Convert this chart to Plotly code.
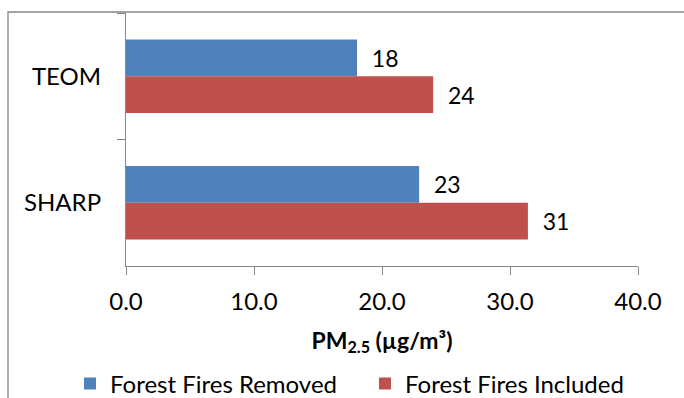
import plotly.graph_objects as go

# Monitor categories and mean PM2.5 concentrations (µg/m³)
monitors = ["TEOM", "SHARP"]
fires_removed = [18.05, 22.9]
fires_included = [24.0, 31.4]
x_ticks = [0, 10, 20, 30, 40]
x_tick_labels = ["0.0", "10.0", "20.0", "30.0", "40.0"]

FONT = "Lato"
AXIS_GRAY = "#868686"
NBSP = "\u00a0"

L, R, T, B = 126, 46, 13, 132
W, H = 684, 398
pw, ph = W - L - R, H - T - B


def px_x(p):
    """Horizontal pixel -> paper coordinate."""
    return (p - L) / pw


def px_y(p):
    """Vertical pixel (from top) -> paper coordinate."""
    return (H - B - p) / ph


fig = go.Figure()
fig.add_trace(go.Bar(
    name="Forest Fires Removed", legend="legend",
    y=monitors, x=fires_removed, orientation="h",
    marker=dict(color="#4F81BD", line=dict(width=0)),
    texttemplate=NBSP * 2 + "%{x:.0f}", textposition="outside",
    constraintext="none", cliponaxis=False,
    textfont=dict(family=FONT, size=23, color="#000000"),
))
fig.add_trace(go.Bar(
    name="Forest Fires Included", legend="legend2",
    y=monitors, x=fires_included, orientation="h",
    marker=dict(color="#C0504D", line=dict(width=0)),
    texttemplate=NBSP * 2 + "%{x:.0f}", textposition="outside",
    constraintext="none", cliponaxis=False,
    textfont=dict(family=FONT, size=23, color="#000000"),
))

# Outer chart-area border (runs off the right and bottom edges)
fig.add_shape(
    type="rect", xref="paper", yref="paper",
    x0=px_x(8), x1=1.3, y0=-1.0, y1=px_y(12),
    line=dict(color=AXIS_GRAY, width=1.3), fillcolor="rgba(0,0,0,0)",
    layer="below",
)

legend_common = dict(
    orientation="h", yanchor="middle", y=px_y(384), xanchor="left",
    font=dict(family=FONT, size=24), bgcolor="rgba(0,0,0,0)",
    borderwidth=0,
)

fig.update_layout(
    width=W, height=H,
    margin=dict(l=L, r=R, t=T, b=B, pad=0, autoexpand=False),
    paper_bgcolor="white", plot_bgcolor="white",
    barmode="group", bargap=0.42, bargroupgap=0,
    font=dict(family=FONT, size=24, color="#000000"),
    showlegend=True,
    legend=dict(x=px_x(70), **legend_common),
    legend2=dict(x=px_x(365), **legend_common),
    xaxis=dict(
        range=[0, 40], tickvals=x_ticks, ticktext=x_tick_labels,
        showgrid=False, zeroline=False,
        showline=True, linecolor=AXIS_GRAY, linewidth=1.3,
        ticks="outside", ticklen=8, tickcolor=AXIS_GRAY, tickwidth=1.3,
        tickfont=dict(family=FONT, size=24),
        ticklabelstandoff=6,
        title=dict(text="<b>PM<sub>2.5</sub> (µg/m³)</b>",
                   font=dict(family=FONT, size=23), standoff=18),
    ),
    yaxis=dict(
        autorange="reversed", categoryorder="array", categoryarray=monitors,
        showgrid=False, zeroline=False,
        showline=True, linecolor=AXIS_GRAY, linewidth=1.3,
        ticks="outside", tickson="boundaries", ticklen=8,
        tickcolor=AXIS_GRAY, tickwidth=1.3,
        tickfont=dict(family=FONT, size=24),
        ticklabelstandoff=19,
    ),
)

fig.write_html("out.html")
